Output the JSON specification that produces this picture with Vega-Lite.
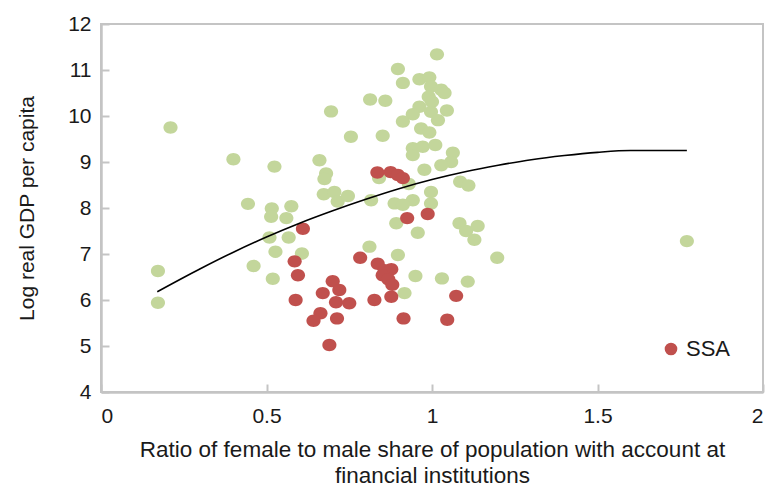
{
  "$schema": "https://vega.github.io/schema/vega-lite/v6.json",
  "width": 662,
  "height": 368,
  "autosize": {"type": "none"},
  "padding": {"left": 101, "top": 24, "right": 7, "bottom": 101},
  "background": "white",
  "config": {
    "font": "Liberation Sans",
    "view": {"stroke": "#c4c4c4", "strokeWidth": 2},
    "axis": {
      "grid": false,
      "domainColor": "#c4c4c4",
      "domainWidth": 2.5,
      "tickColor": "#c4c4c4",
      "tickWidth": 2,
      "tickSize": -8,
      "labelFont": "Liberation Sans",
      "labelFontSize": 21,
      "labelColor": "#1a1a1a",
      "titleFont": "Liberation Sans",
      "titleFontSize": 21,
      "titleFontWeight": "normal",
      "titleColor": "#1a1a1a"
    }
  },
  "datasets": {
    "pts": [
      {"ratio": 0.21, "gdp": 9.75, "group": "Other"},
      {"ratio": 0.172, "gdp": 6.63, "group": "Other"},
      {"ratio": 0.172, "gdp": 5.94, "group": "Other"},
      {"ratio": 0.40, "gdp": 9.06, "group": "Other"},
      {"ratio": 0.444, "gdp": 8.09, "group": "Other"},
      {"ratio": 0.461, "gdp": 6.74, "group": "Other"},
      {"ratio": 0.516, "gdp": 7.99, "group": "Other"},
      {"ratio": 0.514, "gdp": 7.81, "group": "Other"},
      {"ratio": 0.524, "gdp": 8.9, "group": "Other"},
      {"ratio": 0.509, "gdp": 7.36, "group": "Other"},
      {"ratio": 0.527, "gdp": 7.05, "group": "Other"},
      {"ratio": 0.519, "gdp": 6.46, "group": "Other"},
      {"ratio": 0.56, "gdp": 7.78, "group": "Other"},
      {"ratio": 0.575, "gdp": 8.04, "group": "Other"},
      {"ratio": 0.567, "gdp": 7.36, "group": "Other"},
      {"ratio": 0.607, "gdp": 7.01, "group": "Other"},
      {"ratio": 0.66, "gdp": 9.04, "group": "Other"},
      {"ratio": 0.68, "gdp": 8.75, "group": "Other"},
      {"ratio": 0.675, "gdp": 8.63, "group": "Other"},
      {"ratio": 0.673, "gdp": 8.30, "group": "Other"},
      {"ratio": 0.705, "gdp": 8.35, "group": "Other"},
      {"ratio": 0.715, "gdp": 8.14, "group": "Other"},
      {"ratio": 0.746, "gdp": 8.26, "group": "Other"},
      {"ratio": 0.695, "gdp": 10.1, "group": "Other"},
      {"ratio": 0.755, "gdp": 9.55, "group": "Other"},
      {"ratio": 0.816, "gdp": 8.17, "group": "Other"},
      {"ratio": 0.811, "gdp": 7.16, "group": "Other"},
      {"ratio": 0.813, "gdp": 10.36, "group": "Other"},
      {"ratio": 0.859, "gdp": 10.33, "group": "Other"},
      {"ratio": 0.851, "gdp": 9.57, "group": "Other"},
      {"ratio": 0.897, "gdp": 11.02, "group": "Other"},
      {"ratio": 0.912, "gdp": 10.72, "group": "Other"},
      {"ratio": 1.015, "gdp": 11.34, "group": "Other"},
      {"ratio": 0.962, "gdp": 10.8, "group": "Other"},
      {"ratio": 0.992, "gdp": 10.84, "group": "Other"},
      {"ratio": 0.997, "gdp": 10.64, "group": "Other"},
      {"ratio": 1.028, "gdp": 10.57, "group": "Other"},
      {"ratio": 1.038, "gdp": 10.5, "group": "Other"},
      {"ratio": 0.99, "gdp": 10.42, "group": "Other"},
      {"ratio": 1.0, "gdp": 10.31, "group": "Other"},
      {"ratio": 0.962, "gdp": 10.2, "group": "Other"},
      {"ratio": 0.942, "gdp": 10.04, "group": "Other"},
      {"ratio": 0.912, "gdp": 9.88, "group": "Other"},
      {"ratio": 0.997, "gdp": 10.09, "group": "Other"},
      {"ratio": 1.018, "gdp": 9.91, "group": "Other"},
      {"ratio": 1.045, "gdp": 10.12, "group": "Other"},
      {"ratio": 0.967, "gdp": 9.73, "group": "Other"},
      {"ratio": 0.992, "gdp": 9.64, "group": "Other"},
      {"ratio": 0.942, "gdp": 9.3, "group": "Other"},
      {"ratio": 0.972, "gdp": 9.33, "group": "Other"},
      {"ratio": 1.01, "gdp": 9.37, "group": "Other"},
      {"ratio": 0.942, "gdp": 9.15, "group": "Other"},
      {"ratio": 1.063, "gdp": 9.2, "group": "Other"},
      {"ratio": 1.058, "gdp": 9.0, "group": "Other"},
      {"ratio": 1.028, "gdp": 8.93, "group": "Other"},
      {"ratio": 0.977, "gdp": 8.83, "group": "Other"},
      {"ratio": 1.085, "gdp": 8.57, "group": "Other"},
      {"ratio": 1.11, "gdp": 8.49, "group": "Other"},
      {"ratio": 0.997, "gdp": 8.35, "group": "Other"},
      {"ratio": 0.93, "gdp": 8.52, "group": "Other"},
      {"ratio": 0.84, "gdp": 8.65, "group": "Other"},
      {"ratio": 0.887, "gdp": 8.1, "group": "Other"},
      {"ratio": 0.942, "gdp": 8.17, "group": "Other"},
      {"ratio": 0.912, "gdp": 8.07, "group": "Other"},
      {"ratio": 0.997, "gdp": 8.1, "group": "Other"},
      {"ratio": 0.892, "gdp": 7.67, "group": "Other"},
      {"ratio": 0.957, "gdp": 7.46, "group": "Other"},
      {"ratio": 1.083, "gdp": 7.67, "group": "Other"},
      {"ratio": 1.103, "gdp": 7.5, "group": "Other"},
      {"ratio": 1.138, "gdp": 7.61, "group": "Other"},
      {"ratio": 1.128, "gdp": 7.31, "group": "Other"},
      {"ratio": 0.897, "gdp": 6.98, "group": "Other"},
      {"ratio": 1.197, "gdp": 6.92, "group": "Other"},
      {"ratio": 0.95, "gdp": 6.52, "group": "Other"},
      {"ratio": 1.03, "gdp": 6.47, "group": "Other"},
      {"ratio": 1.108, "gdp": 6.4, "group": "Other"},
      {"ratio": 0.917, "gdp": 6.15, "group": "Other"},
      {"ratio": 1.77, "gdp": 7.28, "group": "Other"},
      {"ratio": 0.61, "gdp": 7.55, "group": "SSA"},
      {"ratio": 0.585, "gdp": 6.84, "group": "SSA"},
      {"ratio": 0.595, "gdp": 6.54, "group": "SSA"},
      {"ratio": 0.588, "gdp": 6.0, "group": "SSA"},
      {"ratio": 0.70, "gdp": 6.41, "group": "SSA"},
      {"ratio": 0.67, "gdp": 6.15, "group": "SSA"},
      {"ratio": 0.72, "gdp": 6.22, "group": "SSA"},
      {"ratio": 0.71, "gdp": 5.95, "group": "SSA"},
      {"ratio": 0.75, "gdp": 5.93, "group": "SSA"},
      {"ratio": 0.663, "gdp": 5.71, "group": "SSA"},
      {"ratio": 0.642, "gdp": 5.55, "group": "SSA"},
      {"ratio": 0.713, "gdp": 5.6, "group": "SSA"},
      {"ratio": 0.69, "gdp": 5.02, "group": "SSA"},
      {"ratio": 0.783, "gdp": 6.92, "group": "SSA"},
      {"ratio": 0.836, "gdp": 6.79, "group": "SSA"},
      {"ratio": 0.857, "gdp": 6.65, "group": "SSA"},
      {"ratio": 0.877, "gdp": 6.67, "group": "SSA"},
      {"ratio": 0.851, "gdp": 6.54, "group": "SSA"},
      {"ratio": 0.868, "gdp": 6.45, "group": "SSA"},
      {"ratio": 0.88, "gdp": 6.33, "group": "SSA"},
      {"ratio": 0.877, "gdp": 6.07, "group": "SSA"},
      {"ratio": 0.826, "gdp": 6.0, "group": "SSA"},
      {"ratio": 0.914, "gdp": 5.6, "group": "SSA"},
      {"ratio": 1.046, "gdp": 5.57, "group": "SSA"},
      {"ratio": 1.073, "gdp": 6.09, "group": "SSA"},
      {"ratio": 0.925, "gdp": 7.78, "group": "SSA"},
      {"ratio": 0.987, "gdp": 7.87, "group": "SSA"},
      {"ratio": 0.835, "gdp": 8.77, "group": "SSA"},
      {"ratio": 0.875, "gdp": 8.78, "group": "SSA"},
      {"ratio": 0.897, "gdp": 8.72, "group": "SSA"},
      {"ratio": 0.912, "gdp": 8.65, "group": "SSA"}
    ],
    "trend": [
      {"ratio": 0.17, "gdp": 6.18},
      {"ratio": 0.3, "gdp": 6.68},
      {"ratio": 0.4, "gdp": 7.04},
      {"ratio": 0.5, "gdp": 7.37},
      {"ratio": 0.6, "gdp": 7.67},
      {"ratio": 0.7, "gdp": 7.94},
      {"ratio": 0.8, "gdp": 8.19},
      {"ratio": 0.9, "gdp": 8.42},
      {"ratio": 1.0, "gdp": 8.62},
      {"ratio": 1.1, "gdp": 8.79},
      {"ratio": 1.2, "gdp": 8.93},
      {"ratio": 1.3, "gdp": 9.05},
      {"ratio": 1.4, "gdp": 9.14},
      {"ratio": 1.5, "gdp": 9.21},
      {"ratio": 1.6, "gdp": 9.25},
      {"ratio": 1.77, "gdp": 9.25}
    ]
  },
  "layer": [
    {
      "data": {"name": "pts"},
      "mark": {
        "type": "point",
        "filled": true,
        "opacity": 1,
        "size": 200,
        "shape": "M -1 0 A 1 0.88 0 1 0 1 0 A 1 0.88 0 1 0 -1 0 Z"
      },
      "encoding": {
        "x": {
          "field": "ratio",
          "type": "quantitative",
          "scale": {"domain": [0, 2], "nice": false, "zero": false},
          "axis": {
            "values": [0, 0.5, 1, 1.5, 2],
            "format": "~g",
            "labelPadding": 21,
            "title": ["Ratio of female to male share of population with account at", "financial institutions"],
            "titleFontSize": 22.5,
            "titlePadding": 12,
            "titleLineHeight": 26
          }
        },
        "y": {
          "field": "gdp",
          "type": "quantitative",
          "scale": {"domain": [4, 12], "nice": false, "zero": false},
          "axis": {
            "values": [4, 5, 6, 7, 8, 9, 10, 11, 12],
            "labelPadding": 18,
            "title": "Log real GDP per capita",
            "titlePadding": 30
          }
        },
        "color": {
          "field": "group",
          "type": "nominal",
          "scale": {"domain": ["Other", "SSA"], "range": ["#c3d69b", "#c0504d"]},
          "legend": {
            "values": ["SSA"],
            "title": null,
            "orient": "bottom-right",
            "offset": 32,
            "symbolType": "circle",
            "symbolSize": 160,
            "symbolOpacity": 1,
            "labelFontSize": 22,
            "labelOffset": 4,
            "labelColor": "#1a1a1a",
            "labelFont": "Liberation Sans",
            "padding": 0
          }
        }
      }
    },
    {
      "data": {"name": "trend"},
      "mark": {"type": "line", "color": "#000000", "strokeWidth": 1.6, "interpolate": "monotone"},
      "encoding": {
        "x": {"field": "ratio", "type": "quantitative"},
        "y": {"field": "gdp", "type": "quantitative"}
      }
    },
    {
      "mark": {"type": "text", "align": "right", "baseline": "middle", "fontSize": 21, "font": "Liberation Sans", "color": "#1a1a1a", "text": "R² = 0.1178"},
      "encoding": {
        "x": {"datum": 1.893, "type": "quantitative"},
        "y": {"datum": 10.96, "type": "quantitative"}
      }
    }
  ]
}
